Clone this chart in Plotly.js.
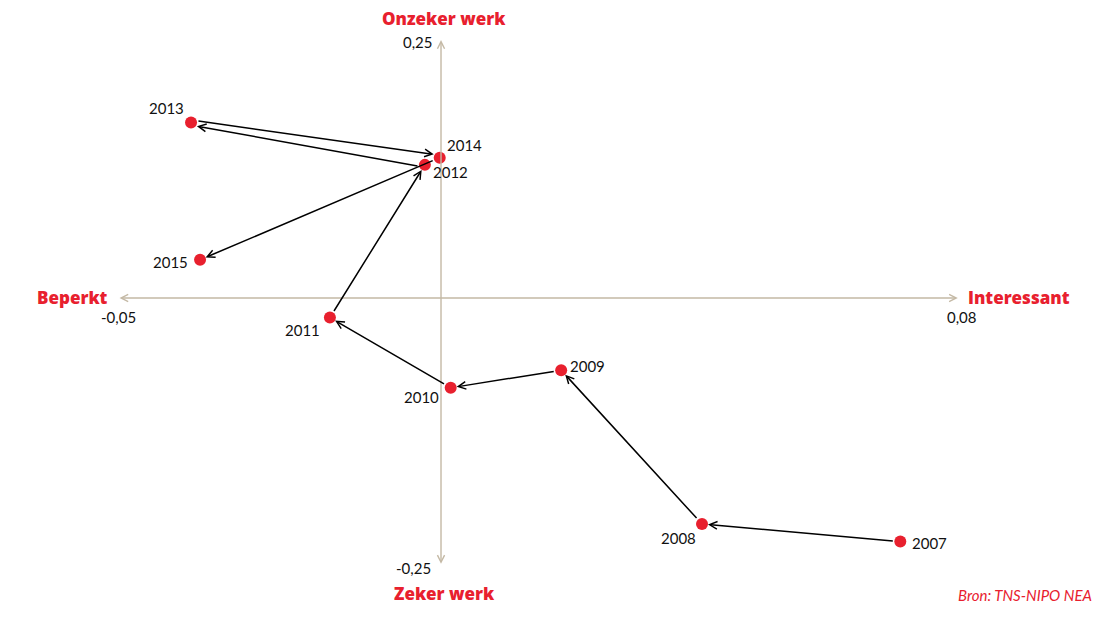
<!DOCTYPE html>
<html><head><meta charset="utf-8">
<script src="https://cdn.plot.ly/plotly-3.0.1.min.js"></script>
<style>html,body{margin:0;padding:0;background:#fff}#chart{width:1112px;height:618px}</style>
</head><body><div id="chart"></div>
<script>
// Data
const years = ['2007','2008','2009','2010','2011','2012','2013','2014','2015'];
const xValues = [0.0711, 0.0404, 0.0186, 0.0015, -0.0172, -0.0025, -0.0387, -0.0002, -0.0373]; // Beperkt <-> Interessant
const yValues = [-0.236, -0.219, -0.070, -0.087, -0.019, 0.129, 0.170, 0.136, 0.037];        // Zeker <-> Onzeker werk
const xTickLabels = ['-0,05', '0,08'];
const xTickValues = [-0.05, 0.08];
const yTickLabels = ['0,25', '-0,25'];
const yTickValues = [0.25, -0.25];
const axisTitles = {top: 'Onzeker werk', bottom: 'Zeker werk', left: 'Beperkt', right: 'Interessant'};
const source = 'Bron: TNS-NIPO NEA';

const RED = '#e8202e';
const AXIS = '#c4b9a5';
const FONT = 'Lato, "Open Sans", sans-serif';

// label placement (style)
const labelPos = {
  '2007': {xanchor:'left', yanchor:'middle', xshift:10, yshift:-1},
  '2008': {xanchor:'right', yanchor:'top', xshift:-4, yshift:-3},
  '2009': {xanchor:'left', yanchor:'middle', xshift:7, yshift:4},
  '2010': {xanchor:'right', yanchor:'top', xshift:-10, yshift:2},
  '2011': {xanchor:'right', yanchor:'top', xshift:-8, yshift:-1},
  '2012': {xanchor:'left', yanchor:'middle', xshift:6, yshift:-7},
  '2013': {xanchor:'right', yanchor:'bottom', xshift:-5, yshift:4},
  '2014': {xanchor:'left', yanchor:'middle', xshift:5, yshift:13},
  '2015': {xanchor:'right', yanchor:'middle', xshift:-10, yshift:-2}
};
// small perpendicular separation for the two overlapping 2012->2013 / 2013->2014 arrows (style)
const arrowYShift = [0, 0, 0, 0, 0, -2.5, 2.5, 0];

const annotations = [];

// axes with arrows (drawn on data coordinates)
annotations.push({x: xTickValues[1], y: 0, ax: xTickValues[0], ay: 0, xref:'x', yref:'y', axref:'x', ayref:'y',
  showarrow:true, arrowside:'end+start', arrowhead:5, startarrowhead:5, arrowsize:1, startarrowsize:1, arrowwidth:1.4, arrowcolor:AXIS, text:''});
annotations.push({x: 0, y: yTickValues[0], ax: 0, ay: -0.259, xref:'x', yref:'y', axref:'x', ayref:'y',
  showarrow:true, arrowside:'end+start', arrowhead:5, startarrowhead:5, arrowsize:1, startarrowsize:1, arrowwidth:1.4, arrowcolor:AXIS, text:''});

// movement arrows
for (let i = 0; i < years.length - 1; i++) {
  annotations.push({
    x: xValues[i+1], y: yValues[i+1], ax: xValues[i], ay: yValues[i],
    xref:'x', yref:'y', axref:'x', ayref:'y', text:'', yshift: arrowYShift[i],
    showarrow:true, arrowhead:5, arrowsize:1, arrowwidth:1.5, arrowcolor:'#000',
    standoff:6, startstandoff:6
  });
}
// year labels
years.forEach((yr, i) => {
  const p = labelPos[yr];
  annotations.push(Object.assign({x: xValues[i], y: yValues[i], xref:'x', yref:'y', text: yr, showarrow:false,
    font:{family:FONT, size:15, color:'#111'}}, p));
});

// tick labels
annotations.push({x: xTickValues[0], y: 0, xref:'x', yref:'y', text: xTickLabels[0], showarrow:false, xanchor:'center', yanchor:'top', yshift:-8, xshift:0, font:{family:FONT, size:15, color:'#111'}});
annotations.push({x: xTickValues[1], y: 0, xref:'x', yref:'y', text: xTickLabels[1], showarrow:false, xanchor:'center', yanchor:'top', yshift:-8, xshift:4, font:{family:FONT, size:15, color:'#111'}});
annotations.push({x: 0, y: yTickValues[0], xref:'x', yref:'y', text: yTickLabels[0], showarrow:false, xanchor:'right', yanchor:'middle', xshift:-6, yshift:-2, font:{family:FONT, size:15, color:'#111'}});
annotations.push({x: 0, y: yTickValues[1], xref:'x', yref:'y', text: yTickLabels[1], showarrow:false, xanchor:'right', yanchor:'middle', xshift:-8, yshift:-12, font:{family:FONT, size:15, color:'#111'}});

// axis titles
const tFont = {family: '"Open Sans", sans-serif', size: 17, color: RED, weight: 800};
annotations.push({x: 0, y: yTickValues[0], xref:'x', yref:'y', text: axisTitles.top, showarrow:false, xanchor:'center', yanchor:'bottom', xshift:3, yshift:8, font:tFont});
annotations.push({x: 0, y: -0.259, xref:'x', yref:'y', text: axisTitles.bottom, showarrow:false, xanchor:'center', yanchor:'top', xshift:3, yshift:-15, font:tFont});
annotations.push({x: xTickValues[0], y: 0, xref:'x', yref:'y', text: axisTitles.left, showarrow:false, xanchor:'right', yanchor:'middle', xshift:-8, yshift:1, font:tFont});
annotations.push({x: xTickValues[1], y: 0, xref:'x', yref:'y', text: axisTitles.right, showarrow:false, xanchor:'left', yanchor:'middle', xshift:8, yshift:1, font:tFont});

// source
annotations.push({x: 1, y: 0, xref:'paper', yref:'paper', xanchor:'right', yanchor:'bottom', xshift:-18, yshift:12,
  text:'<i>'+source+'</i>', showarrow:false, font:{family:FONT, size:15, color:RED}});

const trace = {
  x: xValues, y: yValues, mode:'markers', type:'scatter',
  marker:{color: RED, size: 12}, hoverinfo:'skip', cliponaxis:false
};

const layout = {
  width:1112, height:618,
  margin:{l:0, r:0, t:0, b:0},
  paper_bgcolor:'#fff', plot_bgcolor:'#fff',
  showlegend:false,
  xaxis:{range:[-0.06827, 0.10387], visible:false, fixedrange:true},
  yaxis:{range:[-0.31008, 0.28876], visible:false, fixedrange:true},
  annotations: annotations
};

Plotly.newPlot('chart', [trace], layout, {staticPlot:true, displayModeBar:false});
</script>
</body></html>
